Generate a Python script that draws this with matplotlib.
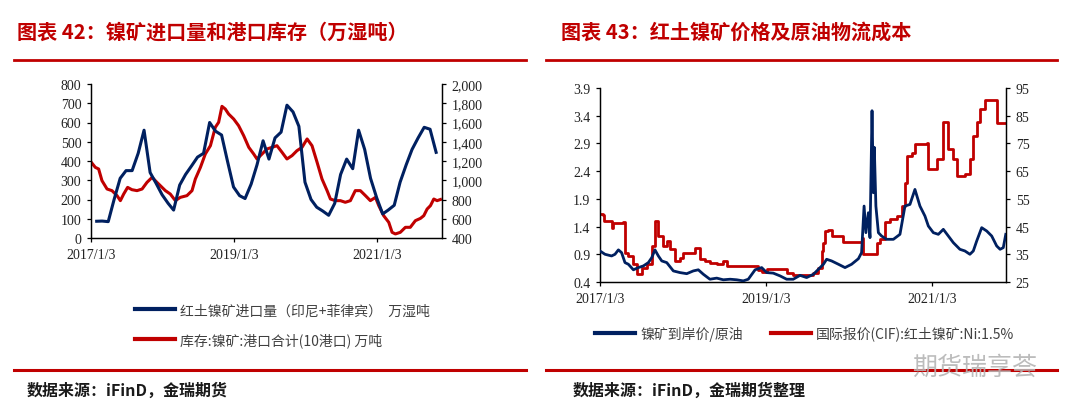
import matplotlib
matplotlib.use("Agg")
import matplotlib.pyplot as plt
import matplotlib.dates as mdates
from matplotlib.lines import Line2D
import pandas as pd

# ---- data: chart 42 ----
# monthly laterite nickel ore imports (Indonesia + Philippines), 10k wet t, Feb 2017 - Nov 2021
import_months = pd.date_range("2017-02-01", "2021-11-01", freq="MS")
import_vol = [87, 88, 85, 200, 310, 350, 350, 440, 560, 340, 285,
              225, 180, 145, 275, 330, 375, 420, 440, 600, 555, 535, 400,
              265, 220, 205, 280, 380, 505, 410, 520, 550, 690, 655, 580,
              290, 200, 160, 140, 118, 180, 330, 410, 360, 560, 460, 310,
              210, 125, 145, 170, 290, 380, 460, 520, 575, 565, 445]

# port inventory, 10 ports, 10k t
stock_dates = ["2017-01-03", "2017-01-25", "2017-02-11", "2017-02-28", "2017-03-26",
               "2017-04-20", "2017-05-16", "2017-06-02", "2017-06-19", "2017-07-09",
               "2017-07-31", "2017-08-26", "2017-09-21", "2017-10-16", "2017-11-11",
               "2017-12-06", "2017-12-23", "2018-01-18", "2018-02-12", "2018-03-10",
               "2018-04-04", "2018-05-08", "2018-06-03", "2018-06-20", "2018-07-16",
               "2018-08-10", "2018-09-05", "2018-09-30", "2018-10-17", "2018-11-03",
               "2018-11-20", "2018-12-07", "2019-01-02", "2019-01-27", "2019-02-22",
               "2019-03-20", "2019-04-14", "2019-05-01", "2019-05-27", "2019-06-21",
               "2019-07-17", "2019-08-11", "2019-09-06", "2019-10-01", "2019-10-27",
               "2019-11-21", "2019-12-17", "2020-01-12", "2020-02-06", "2020-03-03",
               "2020-03-28", "2020-04-23", "2020-05-10", "2020-06-04", "2020-06-30",
               "2020-07-25", "2020-08-20", "2020-09-14", "2020-10-10", "2020-11-05",
               "2020-11-30", "2020-12-26", "2021-01-12", "2021-02-06", "2021-03-04",
               "2021-03-21", "2021-04-07", "2021-05-02", "2021-05-28", "2021-06-22",
               "2021-07-18", "2021-08-13", "2021-08-30", "2021-09-16", "2021-10-03",
               "2021-10-20", "2021-11-06", "2021-11-23"]
stock_vol = [1190, 1134, 1117, 996, 909, 892, 840, 788, 857, 926,
             902, 892, 909, 978, 1030, 978, 944, 892, 857, 788,
             822, 840, 892, 1013, 1134, 1273, 1359, 1550, 1602, 1768,
             1740, 1688, 1636, 1567, 1463, 1342, 1273, 1221, 1273, 1325,
             1342, 1359, 1290, 1221, 1256, 1307, 1342, 1429, 1359, 1186,
             1013, 892, 805, 788, 788, 771, 788, 892, 892, 840,
             788, 822, 736, 632, 563, 459, 442, 459, 511, 511,
             580, 604, 632, 701, 736, 805, 788, 800]

# ---- data: chart 43 ----
ratio_dates = ["2017-01-03", "2017-01-25", "2017-02-23", "2017-03-10", "2017-03-25",
               "2017-04-08", "2017-04-23", "2017-05-08", "2017-05-30", "2017-06-21",
               "2017-07-13", "2017-08-04", "2017-08-19", "2017-09-02", "2017-09-17",
               "2017-10-02", "2017-10-24", "2017-11-22", "2017-12-21", "2018-01-20",
               "2018-02-18", "2018-03-12", "2018-04-03", "2018-05-02", "2018-06-01",
               "2018-06-30", "2018-07-30", "2018-08-28", "2018-09-26", "2018-10-18",
               "2018-11-17", "2018-12-16", "2019-01-07", "2019-02-05", "2019-03-07",
               "2019-04-05", "2019-05-04", "2019-06-03", "2019-07-02", "2019-08-01",
               "2019-08-23", "2019-09-14", "2019-09-28", "2019-10-20", "2019-11-19",
               "2019-12-18", "2020-01-16", "2020-02-15", "2020-02-29", "2020-03-11",
               "2020-03-19", "2020-03-30", "2020-04-06", "2020-04-15", "2020-04-21",
               "2020-04-25", "2020-05-02", "2020-05-13", "2020-05-27", "2020-06-18",
               "2020-07-18", "2020-08-16", "2020-09-07", "2020-09-29", "2020-10-21",
               "2020-11-12", "2020-12-04", "2020-12-19", "2021-01-10", "2021-02-01",
               "2021-02-23", "2021-03-17", "2021-04-08", "2021-05-07", "2021-05-29",
               "2021-06-20", "2021-07-05", "2021-07-20", "2021-08-11", "2021-09-02",
               "2021-09-24", "2021-10-16", "2021-10-31", "2021-11-14", "2021-11-25"]
ratio_vals = [0.96, 0.90, 0.87, 0.90, 0.98, 0.93, 0.75, 0.72, 0.62, 0.66,
              0.69, 0.75, 0.84, 0.98, 0.87, 0.78, 0.75, 0.60, 0.57, 0.55,
              0.60, 0.62, 0.54, 0.45, 0.47, 0.44, 0.45, 0.44, 0.42, 0.45,
              0.62, 0.66, 0.57, 0.56, 0.51, 0.45, 0.45, 0.52, 0.48, 0.54,
              0.63, 0.72, 0.81, 0.78, 0.72, 0.66, 0.72, 0.82, 0.93, 1.77,
              1.29, 1.65, 1.20, 3.49, 2.01, 2.83, 1.77, 1.29, 1.23, 1.17,
              1.17, 1.26, 1.77, 1.80, 2.07, 1.77, 1.59, 1.41, 1.29, 1.26,
              1.35, 1.23, 1.11, 0.99, 0.96, 0.90, 0.96, 1.14, 1.38, 1.32,
              1.23, 1.05, 0.99, 1.02, 1.26]

cif_dates = ["2017-01-03", "2017-01-18", "2017-01-21", "2017-02-16", "2017-02-23",
             "2017-03-03", "2017-04-16", "2017-04-23", "2017-05-08", "2017-05-30",
             "2017-06-13", "2017-07-06", "2017-07-28", "2017-08-19", "2017-09-02",
             "2017-09-17", "2017-10-09", "2017-10-24", "2017-11-07", "2017-11-29",
             "2017-12-21", "2018-01-05", "2018-02-18", "2018-02-25", "2018-03-12",
             "2018-03-19", "2018-04-10", "2018-05-02", "2018-06-01", "2018-06-30",
             "2018-07-15", "2018-11-09", "2018-12-01", "2018-12-16", "2019-01-07",
             "2019-03-07", "2019-04-05", "2019-05-04", "2019-07-02", "2019-08-01",
             "2019-08-23", "2019-09-06", "2019-09-14", "2019-09-21", "2019-10-06",
             "2019-10-20", "2019-12-03", "2019-12-11", "2020-02-22", "2020-02-29",
             "2020-03-08", "2020-04-28", "2020-05-05", "2020-05-20", "2020-06-11",
             "2020-07-03", "2020-08-02", "2020-08-24", "2020-09-07", "2020-09-15",
             "2020-10-07", "2020-10-21", "2020-12-12", "2020-12-19", "2021-01-17",
             "2021-01-25", "2021-02-16", "2021-02-23", "2021-03-13", "2021-03-17",
             "2021-04-08", "2021-04-23", "2021-05-29", "2021-06-20", "2021-07-05",
             "2021-07-20", "2021-08-04", "2021-08-26", "2021-10-09", "2021-10-16",
             "2021-11-25"]
cif_vals = [49.5, 49.2, 47.0, 47.0, 44.6, 46.4, 46.7, 35.6, 34.4, 31.4,
            27.8, 30.2, 31.4, 38.0, 47.0, 41.6, 38.0, 39.8, 36.8, 32.6,
            33.8, 35.6, 35.6, 37.4, 37.4, 33.2, 32.6, 32.0, 31.4, 32.4,
            30.8, 30.8, 29.3, 28.6, 29.8, 29.8, 28.4, 27.4, 27.4, 28.4,
            30.2, 36.2, 39.2, 43.4, 43.7, 41.6, 41.6, 39.5, 39.5, 41.0,
            35.0, 35.0, 39.2, 40.4, 46.8, 47.7, 48.9, 52.5, 60.9, 70.5,
            71.7, 74.8, 75.1, 65.7, 65.7, 69.3, 69.3, 82.6, 82.6, 73.0,
            69.3, 63.3, 63.9, 69.3, 77.8, 82.6, 87.4, 90.8, 90.8, 82.2,
            82.2]

tick_dates = ["2017-01-03", "2019-01-03", "2021-01-03"]
tick_labels = ["2017/1/3", "2019/1/3", "2021/1/3"]

NAVY = "#002060"
RED = "#C00000"
CJK = ["Noto Sans CJK SC", "DejaVu Sans"]
plt.rcParams["font.family"] = CJK

fig = plt.figure(figsize=(10.8, 4.14), dpi=100)
W, H = 1080, 414


def px_axes(x0, y0, x1, y1):
    return fig.add_axes([x0 / W, 1 - y1 / H, (x1 - x0) / W, (y1 - y0) / H])


def style_axes(ax, ax2, xlim):
    for a in (ax, ax2):
        a.spines["top"].set_visible(False)
        for s in ("left", "right", "bottom"):
            a.spines[s].set_linewidth(0.9)
            a.spines[s].set_color("black")
        a.tick_params(direction="out", length=3, width=0.9, pad=4,
                      labelsize=10, labelcolor="#222222")
        for lab in a.get_xticklabels() + a.get_yticklabels():
            lab.set_family("Liberation Serif")
    ax.set_xlim(pd.Timestamp(xlim[0]), pd.Timestamp(xlim[1]))
    ax.set_xticks([pd.Timestamp(d) for d in tick_dates])
    ax.set_xticklabels(tick_labels, family="Liberation Serif")


# ---------------- chart 42 ----------------
axL = px_axes(91, 85, 442, 239)
axL2 = axL.twinx()
axL.plot(import_months, import_vol, color=NAVY, lw=2.2, zorder=3)
axL2.plot(pd.to_datetime(stock_dates), stock_vol, color=RED, lw=2.2)
axL.set_zorder(axL2.get_zorder() + 1)
axL.patch.set_visible(False)
axL.set_ylim(0, 800)
axL.set_yticks(range(0, 801, 100))
axL2.set_ylim(400, 2000)
axL2.set_yticks(range(400, 2001, 200))
axL2.set_yticklabels([f"{v:,}" for v in range(400, 2001, 200)])
style_axes(axL, axL2, ("2017-01-03", "2021-12-01"))

# ---------------- chart 43 ----------------
axR = px_axes(600, 89, 1006, 283)
axR2 = axR.twinx()
axR.plot(pd.to_datetime(ratio_dates), ratio_vals, color=NAVY, lw=2.0, zorder=3)
axR2.plot(pd.to_datetime(cif_dates), cif_vals, color=RED, lw=2.0, drawstyle="steps-post")
axR.set_zorder(axR2.get_zorder() + 1)
axR.patch.set_visible(False)
axR.set_ylim(0.4, 3.9)
axR.set_yticks([0.4, 0.9, 1.4, 1.9, 2.4, 2.9, 3.4, 3.9])
axR.set_yticklabels([f"{v:.1f}" for v in [0.4, 0.9, 1.4, 1.9, 2.4, 2.9, 3.4, 3.9]])
axR2.set_ylim(25, 95)
axR2.set_yticks(range(25, 96, 10))
style_axes(axR, axR2, ("2017-01-03", "2021-11-26"))

# ---------------- titles, rules, legends, sources ----------------
fig.text(17 / W, 1 - 32 / H, "图表 42：镍矿进口量和港口库存（万湿吨）", color=RED,
         fontsize=14.5, fontweight="bold", va="center", ha="left")
fig.text(561 / W, 1 - 32 / H, "图表 43：红土镍矿价格及原油物流成本", color=RED,
         fontsize=14.5, fontweight="bold", va="center", ha="left")

for (x0, x1) in [(14, 526), (546, 1057)]:
    fig.add_artist(Line2D([x0 / W, x1 / W], [1 - 60.5 / H] * 2, color=RED, lw=2.0))
    fig.add_artist(Line2D([x0 / W, x1 / W], [1 - 371 / H] * 2, color=RED, lw=2.2))

handles_l = [Line2D([], [], color=NAVY, lw=3), Line2D([], [], color=RED, lw=3)]
fig.legend(handles_l, ["红土镍矿进口量（印尼+菲律宾）  万湿吨", "库存:镍矿:港口合计(10港口) 万吨"],
           loc="center left", bbox_to_anchor=(135 / W, 1 - 326 / H), frameon=False,
           borderpad=0, borderaxespad=0, handlelength=2.9, handletextpad=0.35,
           labelspacing=1.1, prop={"family": CJK, "size": 10}, labelcolor="#404040")
fig.legend(handles_l, ["镍矿到岸价/原油", "国际报价(CIF):红土镍矿:Ni:1.5%"],
           loc="center left", bbox_to_anchor=(595 / W, 1 - 334 / H), frameon=False,
           borderpad=0, borderaxespad=0, handlelength=2.9, handletextpad=0.35,
           ncol=2, columnspacing=2.0, prop={"family": CJK, "size": 10}, labelcolor="#404040")

fig.text(27 / W, 1 - 391 / H, "数据来源：iFinD，金瑞期货", fontsize=11.5,
         fontweight="bold", color="#1a1a1a", va="center", ha="left")
fig.text(573 / W, 1 - 391 / H, "数据来源：iFinD，金瑞期货整理", fontsize=11.5,
         fontweight="bold", color="#1a1a1a", va="center", ha="left")

# watermark
fig.text(912 / W, 1 - 368 / H, "期货瑞享荟", fontsize=18, color="#b5b5b5",
         va="center", ha="left", alpha=0.9)

fig.savefig("out.png", dpi=100)
